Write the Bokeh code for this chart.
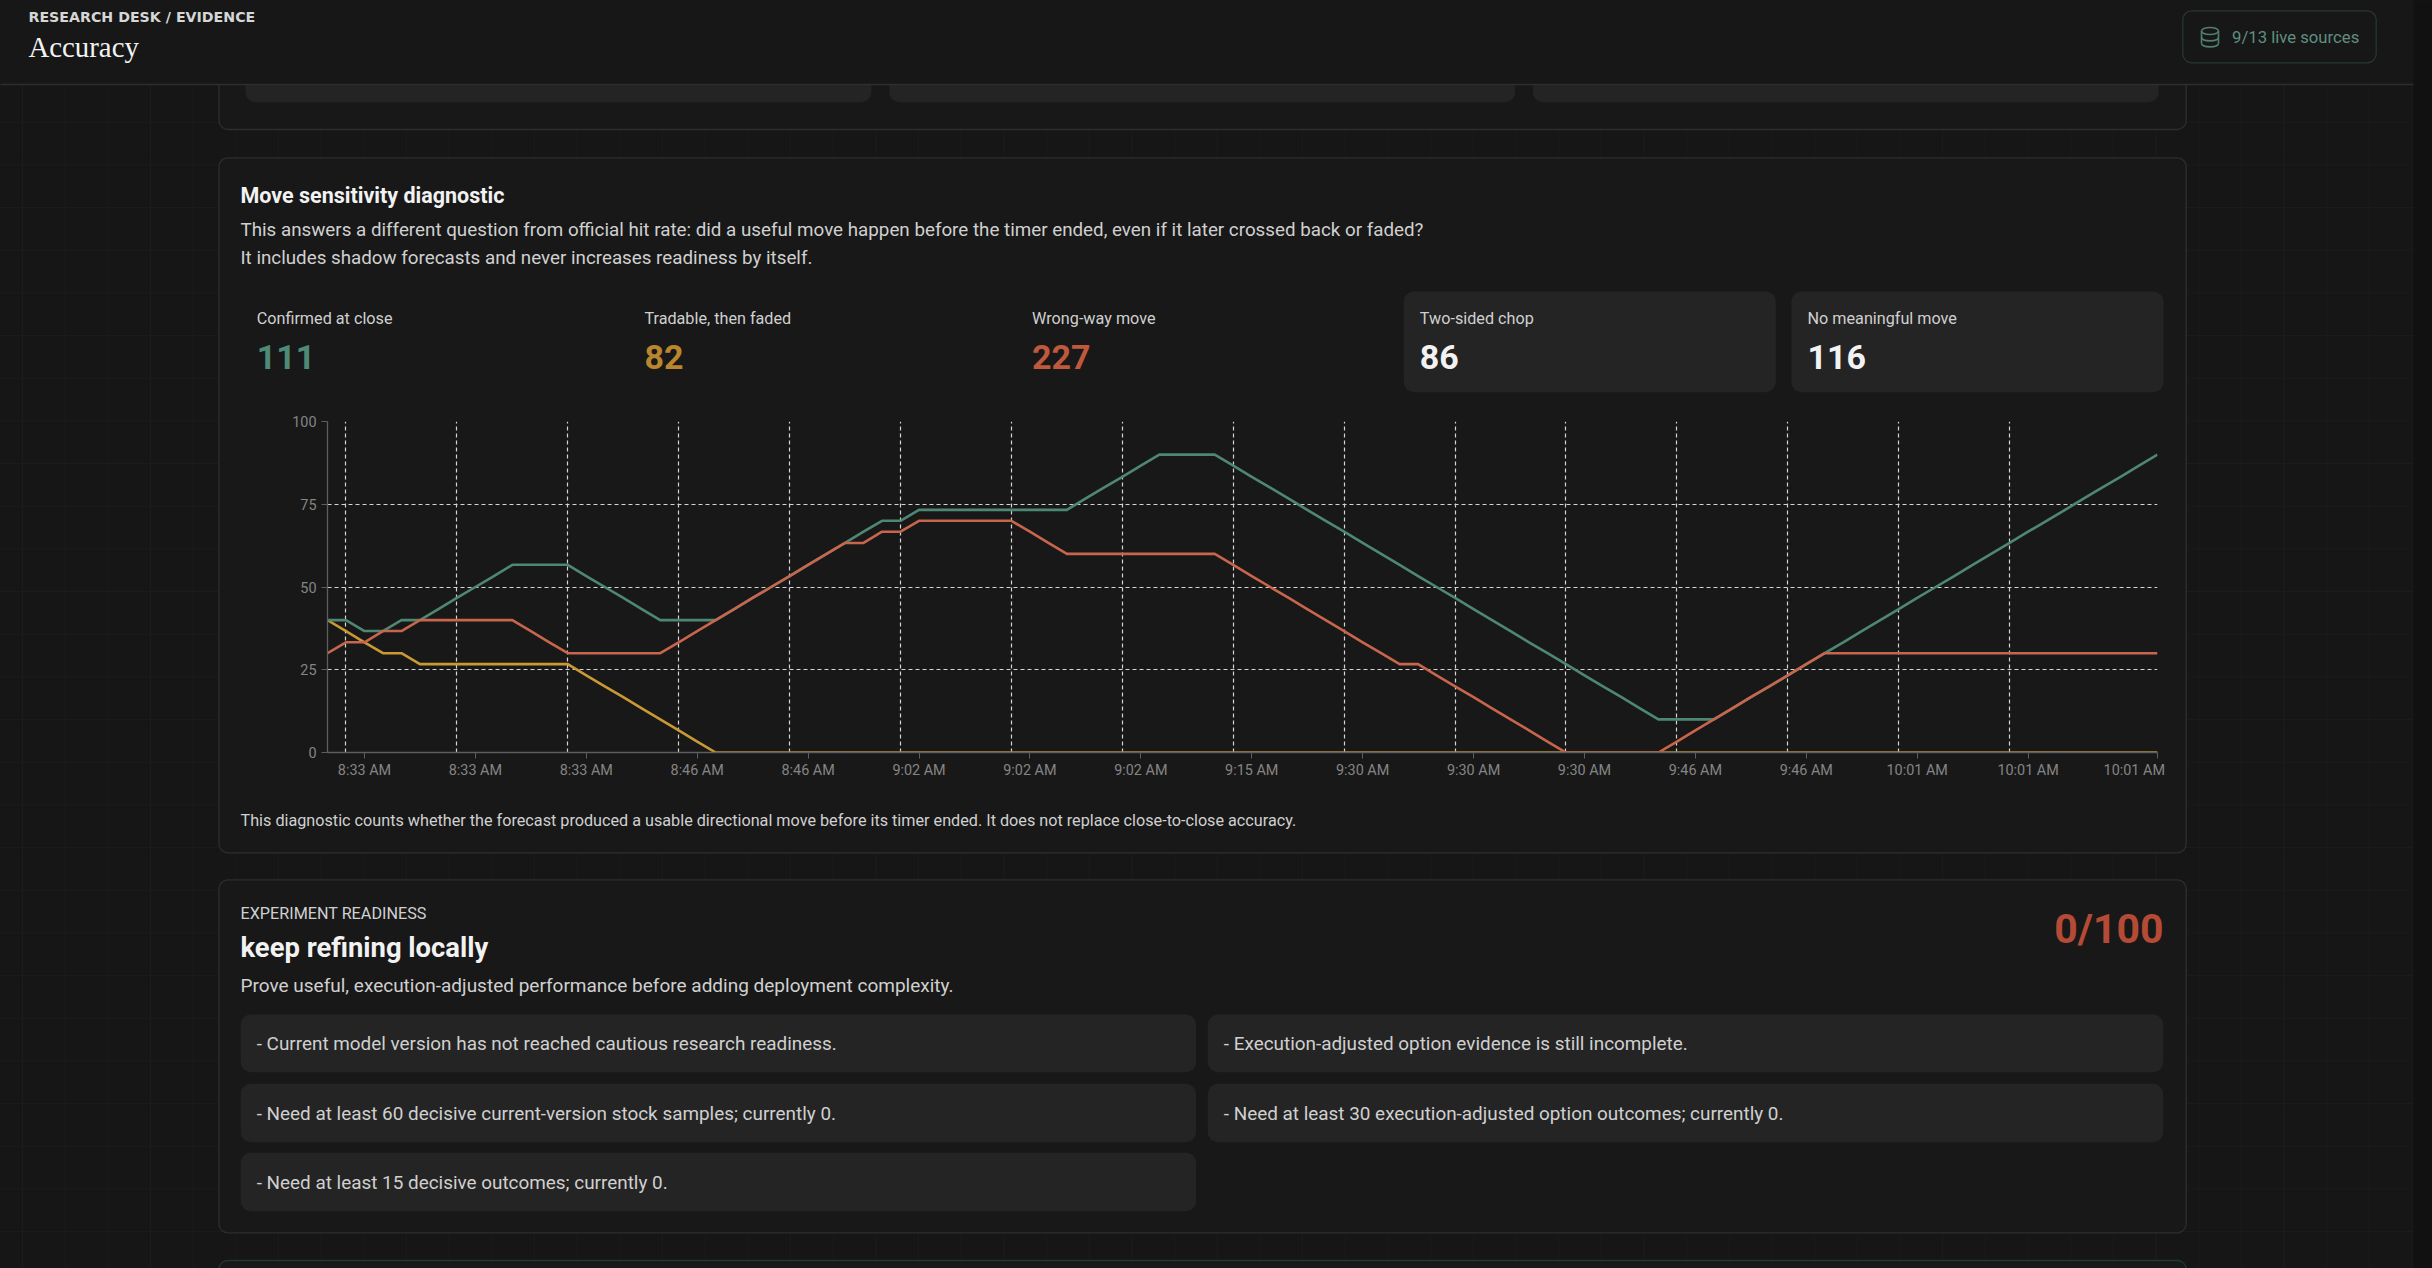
from bokeh.plotting import figure
from bokeh.models import Range1d, FixedTicker, GlobalInlineStyleSheet
from bokeh.core.properties import value
from bokeh.embed import file_html
from bokeh.resources import INLINE

# ---- chart data (share of the last 30 forecasts, %) ----
idx = list(range(100))

confirmed = [40, 40, 36.7, 36.7, 40, 40, 43.3, 46.7, 50, 53.3,
             56.7, 56.7, 56.7, 56.7, 53.3, 50, 46.7, 43.3, 40, 40,
             40, 40, 43.3, 46.7, 50, 53.3, 56.7, 60, 63.3, 66.7,
             70, 70, 73.3, 73.3, 73.3, 73.3, 73.3, 73.3, 73.3, 73.3,
             73.3, 76.7, 80, 83.3, 86.7, 90, 90, 90, 90, 86.7,
             83.3, 80, 76.7, 73.3, 70, 66.7, 63.3, 60, 56.7, 53.3,
             50, 46.7, 43.3, 40, 36.7, 33.3, 30, 26.7, 23.3, 20,
             16.7, 13.3, 10, 10, 10, 10, 13.3, 16.7, 20, 23.3,
             26.7, 30, 33.3, 36.7, 40, 43.3, 46.7, 50, 53.3, 56.7,
             60, 63.3, 66.7, 70, 73.3, 76.7, 80, 83.3, 86.7, 90]

faded = [40, 36.7, 33.3, 30, 30, 26.7, 26.7, 26.7, 26.7, 26.7,
         26.7, 26.7, 26.7, 26.7, 23.3, 20, 16.7, 13.3, 10, 6.7,
         3.3, 0, 0, 0, 0, 0, 0, 0, 0, 0,
         0, 0, 0, 0, 0, 0, 0, 0, 0, 0,
         0, 0, 0, 0, 0, 0, 0, 0, 0, 0,
         0, 0, 0, 0, 0, 0, 0, 0, 0, 0,
         0, 0, 0, 0, 0, 0, 0, 0, 0, 0,
         0, 0, 0, 0, 0, 0, 0, 0, 0, 0,
         0, 0, 0, 0, 0, 0, 0, 0, 0, 0,
         0, 0, 0, 0, 0, 0, 0, 0, 0, 0]

wrong_way = [30, 33.3, 33.3, 36.7, 36.7, 40, 40, 40, 40, 40,
             40, 36.7, 33.3, 30, 30, 30, 30, 30, 30, 33.3,
             36.7, 40, 43.3, 46.7, 50, 53.3, 56.7, 60, 63.3, 63.3,
             66.7, 66.7, 70, 70, 70, 70, 70, 70, 66.7, 63.3,
             60, 60, 60, 60, 60, 60, 60, 60, 60, 56.7,
             53.3, 50, 46.7, 43.3, 40, 36.7, 33.3, 30, 26.7, 26.7,
             23.3, 20, 16.7, 13.3, 10, 6.7, 3.3, 0, 0, 0,
             0, 0, 0, 3.3, 6.7, 10, 13.3, 16.7, 20, 23.3,
             26.7, 30, 30, 30, 30, 30, 30, 30, 30, 30,
             30, 30, 30, 30, 30, 30, 30, 30, 30, 30]

tick_pos = [2, 8, 14, 20, 26, 32, 38, 44, 50, 56, 62, 68, 74, 80, 86, 92, 99]
tick_labels = ["8:33 AM", "8:33 AM", "8:33 AM", "8:46 AM", "8:46 AM", "9:02 AM",
               "9:02 AM", "9:02 AM", "9:15 AM", "9:30 AM", "9:30 AM", "9:30 AM",
               "9:46 AM", "9:46 AM", "10:01 AM", "10:01 AM", "10:01 AM"]
vgrid_pos = [1, 7, 13, 19, 25, 31, 37, 43, 49, 55, 61, 67, 73, 79, 85, 91, 99]
y_ticks = [0, 25, 50, 75, 100]

metric_labels = ["Confirmed at close", "Tradable, then faded", "Wrong-way move",
                 "Two-sided chop", "No meaningful move"]
metric_counts = [111, 82, 227, 86, 116]

readiness_left = ["- Current model version has not reached cautious research readiness.",
                  "- Need at least 60 decisive current-version stock samples; currently 0.",
                  "- Need at least 15 decisive outcomes; currently 0."]
readiness_right = ["- Execution-adjusted option evidence is still incomplete.",
                   "- Need at least 30 execution-adjusted option outcomes; currently 0."]
readiness_score = "0/100"

# ---- look ----
PAGE = "#161616"
HEAD = "#171717"
CARD = "#181818"
BOX = "#242424"
EDGE = "#2e2e2e"
TXT = "#d0d0d0"
WHITE = "#f2f2f2"
GREEN = "#4e8872"
GOLD = "#c99a33"
RED = "#c8654c"
AXIS = "#5e5e5e"
FONT = "Roboto"

PW, PH = 2432, 1268                     # page size in px
CL, CR, CT, CB = 327, 2157, 421, 752    # chart plotting area on the page
K2 = (218.4, 2185.7, 157.3, 852.3)      # the card that holds the chart

# the figure's frame is the chart; the rest of the page lives in its borders
p = figure(width=PW, height=PH, x_range=Range1d(0, 99), y_range=Range1d(0, 100),
           toolbar_location=None, output_backend="svg",
           min_border_left=CL, min_border_right=PW - CR, min_border_top=CT, min_border_bottom=PH - CB,
           background_fill_color=CARD, border_fill_color=CARD, outline_line_color=None)
p.extra_x_ranges = {"page": Range1d(CL, CR)}
p.extra_y_ranges = {"page": Range1d(CB, CT)}
D = dict(x_range_name="page", y_range_name="page", level="overlay")

overrides = {t: s for t, s in zip(tick_pos, tick_labels)}
# the last label sits inside the plot edge, like the original
overrides[tick_pos[-1]] = tick_labels[-1] + "\u00a0" * 13
p.xaxis.ticker = FixedTicker(ticks=tick_pos)
p.xaxis.major_label_overrides = overrides
p.yaxis.ticker = FixedTicker(ticks=y_ticks)
p.xgrid.ticker = FixedTicker(ticks=vgrid_pos)
p.ygrid.ticker = FixedTicker(ticks=y_ticks)
p.grid.grid_line_color = "#d4d4d4"
p.grid.grid_line_dash = "4 3"
p.grid.grid_line_width = 1.2
for ax in (p.xaxis, p.yaxis):
    ax.axis_line_color = AXIS
    ax.axis_line_width = 1.3
    ax.major_tick_line_color = AXIS
    ax.major_tick_out = 6
    ax.major_tick_in = 0
    ax.minor_tick_line_color = None
    ax.major_label_text_font = FONT
    ax.major_label_text_font_size = "14.4px"
    ax.major_label_text_color = "#858585"
p.xaxis.major_label_standoff = 3
p.yaxis.major_label_standoff = 5

p.line(idx, faded, line_color=GOLD, line_width=2.6, line_join="round")
p.line(idx, confirmed, line_color=GREEN, line_width=2.6, line_join="round")
p.line(idx, wrong_way, line_color=RED, line_width=2.6, line_join="round")


def label(x, y, s, size, color=TXT, font=FONT, style="normal", align="left"):
    p.text(x=[x], y=[y], text=[s], text_font=value(font), text_font_size=f"{size}px",
           text_font_style=style, text_color=color, text_align=align,
           text_baseline="middle", **D)


def box(l, r, t, b, fill=CARD, line=EDGE, radius=9):
    p.quad(left=l, right=r, top=t, bottom=b, fill_color=fill, line_color=line,
           line_width=1.3, border_radius=radius, **D)


# page background around the chart card (the card itself is the figure's own fill)
l2, r2, t2, b2 = K2
box(0, PW, 0, t2, fill=PAGE, line=None, radius=0)
box(0, PW, b2, PH, fill=PAGE, line=None, radius=0)
box(0, l2, t2, b2, fill=PAGE, line=None, radius=0)
box(r2, PW, t2, b2, fill=PAGE, line=None, radius=0)

# faint page grid, kept off the chart card
gx0, gy0, gx1, gy1 = [], [], [], []
for k in range(57):
    x = 22 + 42.67 * k
    spans = [(0, t2), (b2, PH)] if l2 < x < r2 else [(0, PH)]
    for a, b in spans:
        gx0.append(x); gy0.append(a); gx1.append(x); gy1.append(b)
for k in range(30):
    y = 36.3 + 42.67 * k
    spans = [(0, l2), (r2, 2413)] if t2 < y < b2 else [(0, 2413)]
    for a, b in spans:
        gx0.append(a); gy0.append(y); gx1.append(b); gy1.append(y)
p.segment(x0=gx0, y0=gy0, x1=gx1, y1=gy1, line_color="#1c1c1c", **D)
box(2413, PW, 0, PH, fill="#111111", line=None, radius=0)

# partially scrolled card above
box(218.4, 2185.7, -60, 129)
for bl in [245, 888.7, 1532.4]:
    box(bl, bl + 625.9, -60, 101.7, fill=BOX, line=None, radius=10)

# move sensitivity card: outline only
box(l2, r2, t2, b2, fill=None)
label(240, 195, "Move sensitivity diagnostic", 21.5, WHITE, style="bold")
label(240, 229, "This answers a different question from official hit rate: did a useful move "
                "happen before the timer ended, even if it later crossed back or faded?", 18.8)
label(240, 257, "It includes shadow forecasts and never increases readiness by itself.", 18.8)

num_colors = ["#4f8a76", "#b8862f", "#c0583d", WHITE, WHITE]
for k, (name, cnt) in enumerate(zip(metric_labels, metric_counts)):
    bx = 240.2 + k * 387.7
    if k >= 3:
        box(bx, bx + 372, 291, 391.7, fill=BOX, line=None, radius=10)
    label(bx + 16, 318, name, 16.2)
    label(bx + 16, 356, str(cnt), 34, num_colors[k], style="bold")

label(240, 820, "This diagnostic counts whether the forecast produced a usable directional move "
                "before its timer ended. It does not replace close-to-close accuracy.", 16.2)

# experiment readiness card
box(218.4, 2185.7, 879.3, 1232.3)
label(240, 912.5, "EXPERIMENT READINESS", 16.2)
label(240, 947, "keep refining locally", 27.4, WHITE, style="bold")
label(240, 985, "Prove useful, execution-adjusted performance before adding deployment complexity.", 19)
label(2163, 928, readiness_score, 41, "#b54b36", style="bold", align="right")
rows_y = [(1014, 1071.7), (1083.3, 1141.7), (1152.3, 1210.7)]
for col_x, items in [(240.2, readiness_left), (1207.3, readiness_right)]:
    for (t, b), s in zip(rows_y, items):
        box(col_x, col_x + 955.4, t, b, fill=BOX, line=None, radius=10)
        label(col_x + 16, (t + b) / 2, s, 18.9)

# next card peeking in at the bottom
box(218.4, 2185.7, 1260, 1400, line="#1f3a31")

# header
box(-20, 2413, -20, 84, fill=HEAD, line=None, radius=0)
p.segment(x0=0, y0=84, x1=2413, y1=84, line_color=EDGE, line_width=1.3, **D)
label(28, 16.5, "RESEARCH DESK / EVIDENCE", 14.2, "#d6d6d6", font="DejaVu Sans", style="bold")
label(28, 46, "Accuracy", 28.8, WHITE, font="Liberation Serif")

box(2182.3, 2375.7, 10.3, 62.3, fill=HEAD, line="#293631", radius=9)
ic = "#4f7f70"
p.ellipse(x=2209.5, y=30.5, width=17, height=7, fill_color=None, line_color=ic, line_width=1.6, **D)
p.segment(x0=[2201, 2218], y0=[30.5, 30.5], x1=[2201, 2218], y1=[43, 43], line_color=ic,
          line_width=1.6, **D)
p.bezier(x0=[2201, 2201], y0=[37, 43], x1=[2218, 2218], y1=[37, 43],
         cx0=[2202, 2202], cy0=[41.5, 47.5], cx1=[2217, 2217], cy1=[41.5, 47.5],
         line_color=ic, line_width=1.6, **D)
label(2231.5, 36.5, "9/13 live sources", 16.7, "#5f8f80")

p.stylesheets = [GlobalInlineStyleSheet(css="html, body { background: #161616; overflow: hidden; }")]

open("out.html", "w").write(file_html(p, INLINE))
